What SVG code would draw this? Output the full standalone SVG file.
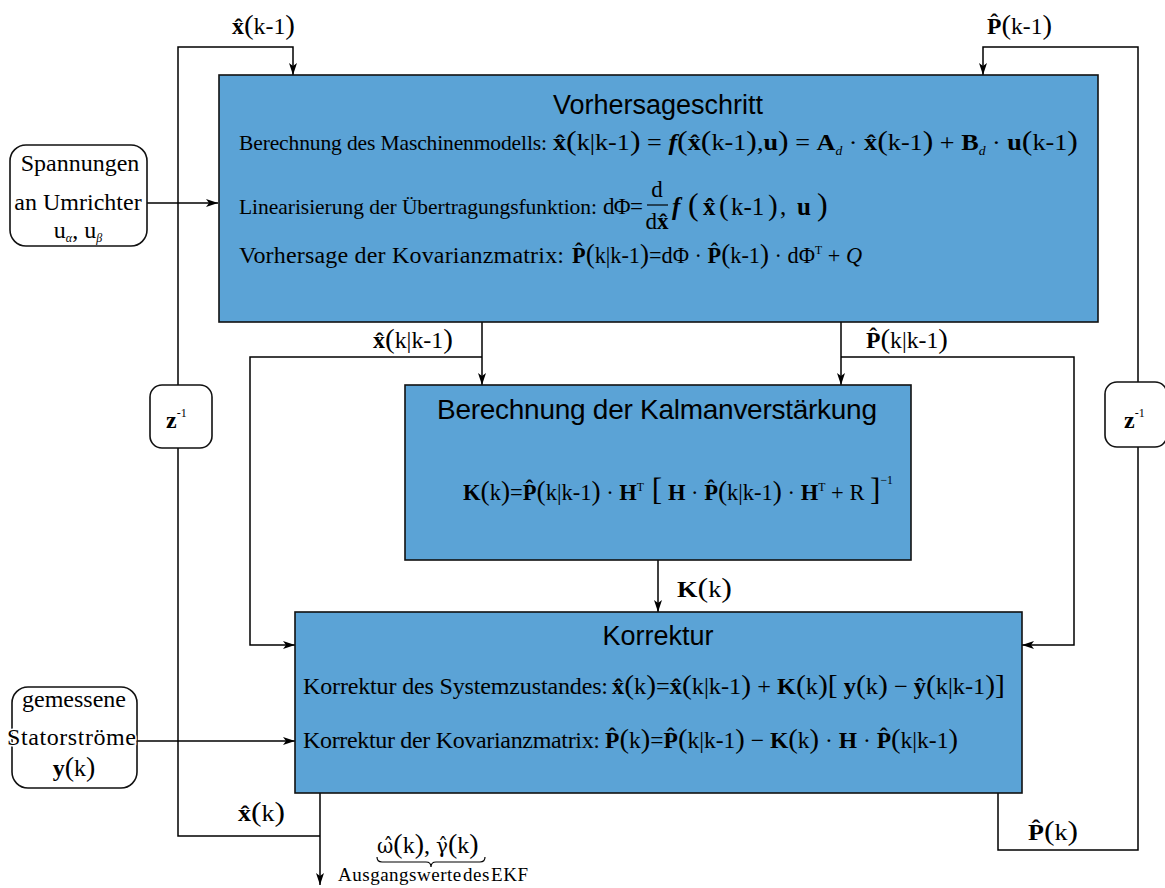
<svg xmlns="http://www.w3.org/2000/svg" width="1165" height="888" viewBox="0 0 1165 888">
<style>
.box{fill:#5BA3D6;stroke:#111;stroke-width:1.6}
.in{fill:#fff;stroke:#111;stroke-width:1.6}
.ln{fill:none;stroke:#000;stroke-width:1.5}
.t{font-family:"Liberation Serif",serif;font-size:23px;fill:#000}
.h{font-family:"Liberation Sans",sans-serif;font-size:27px;fill:#000}
.b{font-weight:bold}
.bi{font-weight:bold;font-style:italic}
.i{font-style:italic}
.p{font-size:28px}
.s{font-size:12px}
.g{font-family:"DejaVu Serif",serif;font-size:20px}
</style>
<defs>
<marker id="ar" viewBox="0 0 12 8" refX="12" refY="4" markerWidth="12" markerHeight="8" orient="auto" markerUnits="userSpaceOnUse"><path d="M0,0 L12,4 L0,8 L3,4 z" fill="#000"/></marker>
</defs>
<g id="connectors">
<path class="ln" d="M320,836 H178 V47 H293 V75" marker-end="url(#ar)"/>
<path class="ln" d="M998,793 V850 H1138 V47 H983 V75" marker-end="url(#ar)"/>
<path class="ln" d="M147,203 H218" marker-end="url(#ar)"/>
<path class="ln" d="M137,741 H295" marker-end="url(#ar)"/>
<path class="ln" d="M482,322 V385" marker-end="url(#ar)"/>
<path class="ln" d="M482,357 H250 V645 H295" marker-end="url(#ar)"/>
<path class="ln" d="M841,322 V385" marker-end="url(#ar)"/>
<path class="ln" d="M841,357 H1074 V645 H1022" marker-end="url(#ar)"/>
<path class="ln" d="M658,560 V612" marker-end="url(#ar)"/>
<path class="ln" d="M320,793 V885" marker-end="url(#ar)"/>
<text class="t" x="232" y="34" textLength="63" lengthAdjust="spacingAndGlyphs"><tspan class="b">x̂</tspan><tspan class="p">(</tspan>k-1<tspan class="p">)</tspan></text>
<text class="t" x="987" y="34" textLength="65" lengthAdjust="spacingAndGlyphs"><tspan class="b">P̂</tspan><tspan class="p">(</tspan>k-1<tspan class="p">)</tspan></text>
<text class="t" x="373" y="348" textLength="80" lengthAdjust="spacingAndGlyphs"><tspan class="b">x̂</tspan><tspan class="p">(</tspan>k|k-1<tspan class="p">)</tspan></text>
<text class="t" x="866" y="348" textLength="82" lengthAdjust="spacingAndGlyphs"><tspan class="b">P̂</tspan><tspan class="p">(</tspan>k|k-1<tspan class="p">)</tspan></text>
<text class="t" x="677" y="597" textLength="55" lengthAdjust="spacingAndGlyphs"><tspan class="b">K</tspan><tspan class="p">(</tspan>k<tspan class="p">)</tspan></text>
<text class="t" x="238" y="821" textLength="47" lengthAdjust="spacingAndGlyphs"><tspan class="b">x̂</tspan><tspan class="p">(</tspan>k<tspan class="p">)</tspan></text>
<text class="t" x="1028" y="840" textLength="50" lengthAdjust="spacingAndGlyphs"><tspan class="b">P̂</tspan><tspan class="p">(</tspan>k<tspan class="p">)</tspan></text>
<text class="t" x="377" y="853" style="font-size:24px"><tspan class="g">ω̂</tspan><tspan class="p">(</tspan>k<tspan class="p">)</tspan>, <tspan class="g">γ̂</tspan><tspan class="p">(</tspan>k<tspan class="p">)</tspan></text>
<path class="ln" d="M377,857 q0,5 5,5 H426 q5,0 5,5 q0,-5 5,-5 H480 q5,0 5,-5" style="stroke-width:1.2"/>
<text class="t" x="338" y="881" style="font-size:19px;word-spacing:-4px" textLength="190">Ausgangswerte des EKF</text>
</g>
<g id="vorhersage">
<rect class="box" x="219" y="75" width="879" height="247"/>
<text class="h" x="658" y="114" text-anchor="middle">Vorhersageschritt</text>
<text class="t" x="239" y="150" style="font-size:21.5px" textLength="308">Berechnung des Maschinenmodells:</text>
<text class="t" x="553" y="150" textLength="525" lengthAdjust="spacingAndGlyphs"><tspan class="b">x̂</tspan><tspan class="p">(</tspan>k|k-1<tspan class="p">)</tspan> = <tspan class="bi">f</tspan><tspan class="p">(</tspan><tspan class="b">x̂</tspan><tspan class="p">(</tspan>k-1<tspan class="p">)</tspan>,<tspan class="b">u</tspan><tspan class="p">)</tspan> = <tspan class="b">A</tspan><tspan class="s i" dy="5">d</tspan><tspan dy="-5"> · </tspan><tspan class="b">x̂</tspan><tspan class="p">(</tspan>k-1<tspan class="p">)</tspan> + <tspan class="b">B</tspan><tspan class="s i" dy="5">d</tspan><tspan dy="-5"> · </tspan><tspan class="b">u</tspan><tspan class="p">(</tspan>k-1<tspan class="p">)</tspan></text>
<text class="t" x="239" y="214" style="font-size:21.5px" textLength="358">Linearisierung der Übertragungsfunktion:</text>
<text class="t" x="603" y="214" textLength="40">dΦ=</text>
<text class="t" x="657" y="197" text-anchor="middle">d</text>
<path d="M647,205 H668" stroke="#000" stroke-width="1.2"/>
<text class="t" x="657" y="229" text-anchor="middle">d<tspan class="b">x̂</tspan></text>
<text class="t" y="215" style="font-size:25px"><tspan class="bi" x="672">f</tspan><tspan x="688" style="font-size:32px">(</tspan><tspan class="b" x="703">x̂</tspan><tspan x="719" style="font-size:29px">(</tspan><tspan x="731">k-1</tspan><tspan x="768" style="font-size:29px">)</tspan><tspan x="780">,</tspan><tspan class="b" x="797">u</tspan><tspan x="817" style="font-size:32px">)</tspan></text>
<text class="t" x="239" y="263" style="font-size:24px" textLength="325">Vorhersage der Kovarianzmatrix:</text>
<text class="t" x="572" y="263" textLength="290" lengthAdjust="spacingAndGlyphs"><tspan class="b">P̂</tspan><tspan class="p">(</tspan>k|k-1<tspan class="p">)</tspan>=dΦ · <tspan class="b">P̂</tspan><tspan class="p">(</tspan>k-1<tspan class="p">)</tspan> · dΦ<tspan class="s" dy="-9">T</tspan><tspan dy="9"> + </tspan><tspan class="i">Q</tspan></text>
</g>
<g id="input-spannungen">
<rect class="in" x="10" y="145" width="137" height="101" rx="16"/>
<text class="t" x="80" y="171" text-anchor="middle" style="font-size:24px">Spannungen</text>
<text class="t" x="78" y="210" text-anchor="middle" style="font-size:24px">an Umrichter</text>
<text class="t" x="78" y="238" text-anchor="middle" style="font-size:24px">u<tspan class="s i" dy="4">α</tspan><tspan dy="-4">, u</tspan><tspan class="s i" dy="4">β</tspan></text>
</g>
<g id="z-left">
<rect class="in" x="150" y="385" width="62" height="63" rx="12"/>
<text class="t" x="166" y="428"><tspan class="b" style="font-size:24px">z</tspan><tspan class="s" dy="-11">-1</tspan></text>
</g>
<g id="z-right">
<rect class="in" x="1105" y="382" width="62" height="65" rx="12"/>
<text class="t" x="1124" y="428"><tspan class="b" style="font-size:24px">z</tspan><tspan class="s" dy="-11">-1</tspan></text>
</g>
<g id="kalman">
<rect class="box" x="405" y="385" width="506" height="175"/>
<text class="h" x="437" y="419" style="font-size:28px" textLength="440">Berechnung der Kalmanverstärkung</text>
<text class="t" x="463" y="500" textLength="430" lengthAdjust="spacingAndGlyphs"><tspan class="b">K</tspan><tspan class="p">(</tspan>k<tspan class="p">)</tspan>=<tspan class="b">P̂</tspan><tspan class="p">(</tspan>k|k-1<tspan class="p">)</tspan> · <tspan class="b">H</tspan><tspan class="s" dy="-9">T</tspan><tspan dy="9" style="font-size:32px"> [</tspan> <tspan class="b">H</tspan> · <tspan class="b">P̂</tspan><tspan class="p">(</tspan>k|k-1<tspan class="p">)</tspan> · <tspan class="b">H</tspan><tspan class="s" dy="-9">T</tspan><tspan dy="9"> + R </tspan><tspan style="font-size:32px">]</tspan><tspan class="s" dy="-16">−1</tspan></text>
</g>
<g id="korrektur">
<rect class="box" x="295" y="612" width="727" height="181"/>
<text class="h" x="658" y="645" text-anchor="middle">Korrektur</text>
<text class="t" x="303" y="694" style="font-size:24px" textLength="305">Korrektur des Systemzustandes:</text>
<text class="t" x="612" y="694" textLength="393" lengthAdjust="spacingAndGlyphs"><tspan class="b">x̂</tspan><tspan class="p">(</tspan>k<tspan class="p">)</tspan>=<tspan class="b">x̂</tspan><tspan class="p">(</tspan>k|k-1<tspan class="p">)</tspan> + <tspan class="b">K</tspan><tspan class="p">(</tspan>k<tspan class="p">)</tspan><tspan class="p">[</tspan> <tspan class="b">y</tspan><tspan class="p">(</tspan>k<tspan class="p">)</tspan> − <tspan class="b">ŷ</tspan><tspan class="p">(</tspan>k|k-1<tspan class="p">)</tspan><tspan class="p">]</tspan></text>
<text class="t" x="303" y="748" style="font-size:24px" textLength="297">Korrektur der Kovarianzmatrix:</text>
<text class="t" x="605" y="748" textLength="353" lengthAdjust="spacingAndGlyphs"><tspan class="b">P̂</tspan><tspan class="p">(</tspan>k<tspan class="p">)</tspan>=<tspan class="b">P̂</tspan><tspan class="p">(</tspan>k|k-1<tspan class="p">)</tspan> − <tspan class="b">K</tspan><tspan class="p">(</tspan>k<tspan class="p">)</tspan> · <tspan class="b">H</tspan> · <tspan class="b">P̂</tspan><tspan class="p">(</tspan>k|k-1<tspan class="p">)</tspan></text>
</g>
<g id="input-strom">
<rect class="in" x="12" y="687" width="125" height="101" rx="16"/>
<text class="t" x="74" y="707" text-anchor="middle" style="font-size:24px">gemessene</text>
<text class="t" x="7" y="745" style="font-size:24px;paint-order:stroke;stroke:#fff;stroke-width:3px" textLength="129">Statorströme</text>
<text class="t" x="74" y="776" text-anchor="middle" style="font-size:24px"><tspan class="b">y</tspan><tspan class="p">(</tspan>k<tspan class="p">)</tspan></text>
</g>
</svg>
